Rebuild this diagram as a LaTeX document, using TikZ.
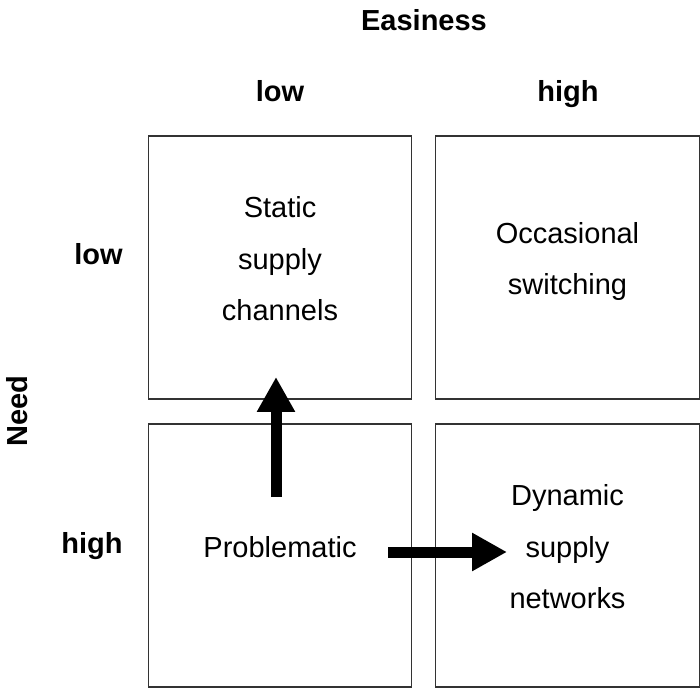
\documentclass[tikz,border=0pt]{standalone}
\usepackage{fontspec}
\setmainfont{Liberation Sans}
\usetikzlibrary{arrows.meta, positioning, calc}

\begin{document}
\begin{tikzpicture}[
    x=0.02cm, y=-0.02cm,
    cell/.style={rectangle, draw=black!80, line width=0.7pt, minimum width=5.27cm, minimum height=5.26cm, align=center, inner sep=0pt, text depth=0.35cm, font=\fontsize{16.5}{29.3}\selectfont},
    axis/.style={font=\bfseries\fontsize{16.5}{20}\selectfont, inner sep=0pt},
    bigarrow/.style={-{Triangle[length=0.7cm, width=0.72cm]}, line width=0.22cm}
]
\useasboundingbox (0,0) rectangle (700,689);

% Quadrants
\node[cell] (static) at (280,267.5) {Static\\supply\\channels};
\node[cell] (occasional) at (567.5,267.5) {Occasional\\switching};
\node[cell] (problematic) at (280,555.5) {Problematic};
\node[cell] (dynamic) at (567.5,555.5) {Dynamic\\supply\\networks};

% Axis labels
\node[axis] (easiness) at (424,20) {Easiness};
\node[axis, anchor=base] (lowcol) at (280,102) {low};
\node[axis, anchor=base] (highcol) at (568,102) {high};
\node[axis, anchor=base east] (lowrow) at (123,265) {low};
\node[axis, anchor=base east] (highrow) at (123,553) {high};
\node[axis, rotate=90] (need) at (17,411) {Need};

% Arrows
\coordinate (upfrom) at (276,497);
\coordinate (upto) at (276,377);
\coordinate (rightfrom) at (388,552);
\coordinate (rightto) at (507,552);
\draw[bigarrow] (upfrom) -- (upto);
\draw[bigarrow] (rightfrom) -- (rightto);

\end{tikzpicture}
\end{document}
